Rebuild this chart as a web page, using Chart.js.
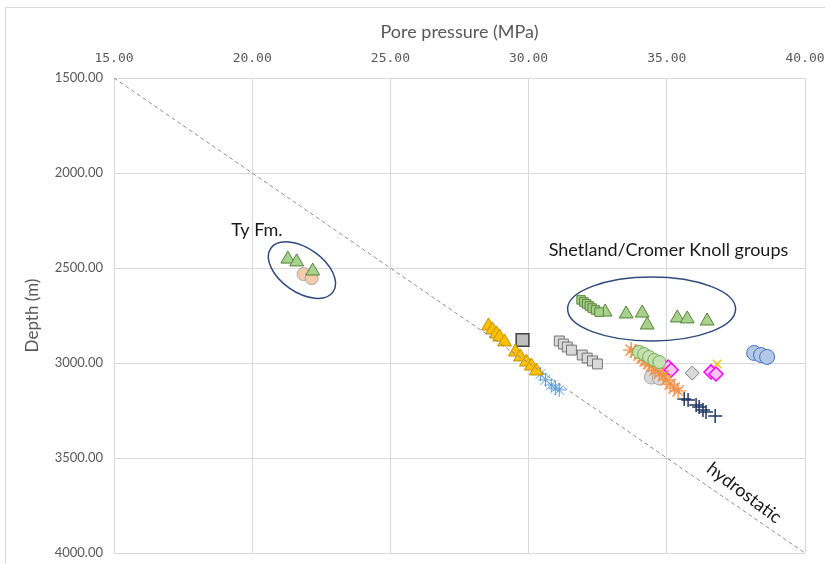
<!DOCTYPE html>
<html>
<head>
<meta charset="utf-8">
<script src="https://cdn.jsdelivr.net/npm/chart.js@4.4.0/dist/chart.umd.min.js"></script>
<style>
  html, body { margin: 0; padding: 0; background: #fff; }
  #wrap { position: relative; width: 825px; height: 564px; overflow: hidden; }
  #frame { position: absolute; left: 5px; top: 7px; width: 840px; height: 580px; border: 1px solid #d9d9d9; }
  canvas { position: absolute; left: 0; top: 0; }
</style>
</head>
<body>
<div id="wrap">
  <div id="frame"></div>
  <canvas id="chart" width="825" height="564"></canvas>
</div>
<script>
// pore pressure (MPa) / depth (m) pairs
const tyTriP = [21.29, 21.61, 22.19];
const tyTriD = [2453, 2468, 2516];
const tyCircP = [21.86, 22.15];
const tyCircD = [2532, 2553];

const shetSqP = [31.90, 32.00, 32.10, 32.20, 32.30, 32.42, 32.55];
const shetSqD = [2668, 2679, 2689, 2700, 2711, 2721, 2732];
const shetTriP = [32.77, 33.53, 34.11, 34.29, 35.38, 35.74, 36.46];
const shetTriD = [2732, 2742, 2737, 2800, 2763, 2768, 2779];

const yellowTriP = [28.55, 28.69, 28.84, 28.95, 29.13, 29.52, 29.70, 29.92, 30.10, 30.28];
const yellowTriD = [2805, 2826, 2847, 2863, 2889, 2942, 2968, 2995, 3016, 3042];

const bigSqP = [29.78];
const bigSqD = [2879];

const greySqP = [31.11, 31.26, 31.40, 31.55, 31.94, 32.12, 32.31, 32.49];
const greySqD = [2884, 2900, 2916, 2932, 2958, 2974, 2989, 3005];

const blueStarP = [30.43, 30.61, 30.82, 30.97, 31.11];
const blueStarD = [3058, 3089, 3116, 3132, 3142];

const greenCircP = [34.00, 34.18, 34.36, 34.55, 34.73];
const greenCircD = [2942, 2953, 2968, 2984, 2995];

const orangeStarP = [33.71, 33.86, 34.00, 34.11, 34.22, 34.33, 34.44, 34.58, 34.73, 34.87, 34.98, 35.12, 35.27, 35.41];
const orangeStarD = [2932, 2942, 2958, 2974, 2989, 3005, 3016, 3037, 3053, 3068, 3089, 3111, 3132, 3147];

const greyCircP = [34.44, 34.73];
const greyCircD = [3074, 3079];

const magentaP = [35.05, 35.16, 36.60, 36.78];
const magentaD = [3021, 3037, 3047, 3058];

const greyDiaP = [35.92];
const greyDiaD = [3053];

const yellowXP = [36.82];
const yellowXD = [3005];

const blueCircP = [38.16, 38.41, 38.63];
const blueCircD = [2947, 2958, 2968];

const navyPlusP = [35.63, 35.77, 36.06, 36.17, 36.31, 36.42, 36.75];
const navyPlusD = [3189, 3195, 3221, 3232, 3247, 3258, 3279];

const hydroP = [15, 40];
const hydroD = [1500, 4000];

const xTicks = [15, 20, 25, 30, 35, 40];
const yTicks = [1500, 2000, 2500, 3000, 3500, 4000];

// annotations (centres in data units)
const ellipses = [
  { p: 21.80, d: 2511, rx: 38, ry: 22, rot: 35 },
  { p: 34.45, d: 2716, rx: 84, ry: 32, rot: 0 }
];
const notes = [
  { text: 'Ty Fm.', p: 20.17, d: 2300, rot: 0 },
  { text: 'Shetland/Cromer Knoll groups', p: 35.06, d: 2405, rot: 0 },
  { text: 'hydrostatic', p: 37.80, d: 3684, rot: 37 }
];

function pts(ps, ds) {
  return ps.map((p, i) => ({ x: p, y: ds[i] }));
}

function series(ps, ds, style, radius, fill, border, bw) {
  return {
    data: pts(ps, ds),
    pointStyle: style,
    pointRadius: radius,
    backgroundColor: fill,
    borderColor: border,
    pointBorderWidth: bw || 1,
    showLine: false
  };
}

const datasets = [
  {
    data: pts(hydroP, hydroD),
    showLine: true,
    borderColor: '#8c8c8c',
    borderWidth: 1,
    borderDash: [4, 3],
    pointRadius: 0
  },
  series(tyTriP, tyTriD, 'triangle', 8, '#a9d18e', '#548235'),
  series(tyCircP, tyCircD, 'circle', 6.5, '#f8cbad', '#a5a5a5'),
  series(shetSqP, shetSqD, 'rect', 6, '#a9d18e', '#548235'),
  series(shetTriP, shetTriD, 'triangle', 8, '#a9d18e', '#548235'),
  series(yellowTriP, yellowTriD, 'triangle', 8, '#ffc000', '#bf9000'),
  series(bigSqP, bigSqD, 'rect', 9, '#bfbfbf', '#404040', 1.5),
  series(greySqP, greySqD, 'rect', 7, '#d9d9d9', '#737373'),
  series(blueStarP, blueStarD, 'star', 7, '#5b9bd5', '#5b9bd5'),
  series(greenCircP, greenCircD, 'circle', 6.5, '#c5e0b4', '#70ad47'),
  series(orangeStarP, orangeStarD, 'star', 8, '#f0904a', '#f0904a', 1.3),
  series(greyCircP, greyCircD, 'circle', 7, '#d9d9d9', '#a5a5a5'),
  series(magentaP, magentaD, 'rectRot', 7, '#f9c6f9', '#ff00ff', 1.5),
  series(greyDiaP, greyDiaD, 'rectRot', 7, '#d9d9d9', '#7f7f7f'),
  series(yellowXP, yellowXD, 'crossRot', 6, '#ffc000', '#ffc000', 1.5),
  series(blueCircP, blueCircD, 'circle', 7.5, '#b4c7e7', '#4472c4'),
  series(navyPlusP, navyPlusD, 'cross', 7, '#203864', '#203864', 1.5)
];

const annotate = {
  id: 'annotate',
  beforeDatasetsDraw(chart) {
    const { ctx, scales: { x, y } } = chart;
    ctx.save();
    ctx.strokeStyle = '#2f4b7c';
    ctx.lineWidth = 1.5;
    ellipses.forEach(e => {
      ctx.beginPath();
      ctx.ellipse(x.getPixelForValue(e.p), y.getPixelForValue(e.d), e.rx, e.ry,
        e.rot * Math.PI / 180, 0, Math.PI * 2);
      ctx.stroke();
    });
    ctx.restore();
  },
  afterDatasetsDraw(chart) {
    const { ctx, scales: { x, y } } = chart;
    ctx.save();
    ctx.fillStyle = '#1a1a1a';
    ctx.font = '18px Lato';
    ctx.textAlign = 'center';
    ctx.textBaseline = 'middle';
    notes.forEach(n => {
      ctx.save();
      ctx.translate(x.getPixelForValue(n.p), y.getPixelForValue(n.d));
      ctx.rotate(n.rot * Math.PI / 180);
      ctx.fillText(n.text, 0, 0);
      ctx.restore();
    });
    ctx.restore();
  }
};

new Chart(document.getElementById('chart'), {
  type: 'scatter',
  data: { datasets },
  plugins: [annotate],
  options: {
    responsive: false,
    animation: false,
    layout: { padding: { left: 0, top: 0, right: 20, bottom: 11 } },
    plugins: { legend: { display: false }, tooltip: { enabled: false } },
    scales: {
      x: {
        type: 'linear',
        position: 'top',
        min: 15,
        max: 40,
        afterBuildTicks: s => { s.ticks = xTicks.map(v => ({ value: v })); },
        afterFit: s => { s.height = 78; s.paddingLeft = 0; s.paddingRight = 0; },
        ticks: {
          color: '#595959',
          font: { family: 'DejaVu Sans Mono', size: 13 },
          padding: 12,
          callback: v => Number(v).toFixed(2)
        },
        title: {
          display: true,
          text: 'Pore pressure (MPa)',
          color: '#595959',
          font: { family: 'Lato', size: 18 },
          padding: { top: 21, bottom: 0 }
        },
        grid: { color: '#d9d9d9', drawTicks: false },
        border: { display: false }
      },
      y: {
        type: 'linear',
        reverse: true,
        min: 1500,
        max: 4000,
        afterBuildTicks: s => { s.ticks = yTicks.map(v => ({ value: v })); },
        afterFit: s => { s.width = 114; s.paddingTop = 0; s.paddingBottom = 0; },
        ticks: {
          color: '#595959',
          font: { family: 'Lato', size: 13 },
          padding: 11,
          callback: v => Number(v).toFixed(2)
        },
        title: {
          display: true,
          text: 'Depth (m)',
          color: '#595959',
          font: { family: 'Lato', size: 17 },
          padding: { top: 22, bottom: 0 }
        },
        grid: { color: '#d9d9d9', drawTicks: false },
        border: { display: false }
      }
    }
  }
});
</script>
</body>
</html>
